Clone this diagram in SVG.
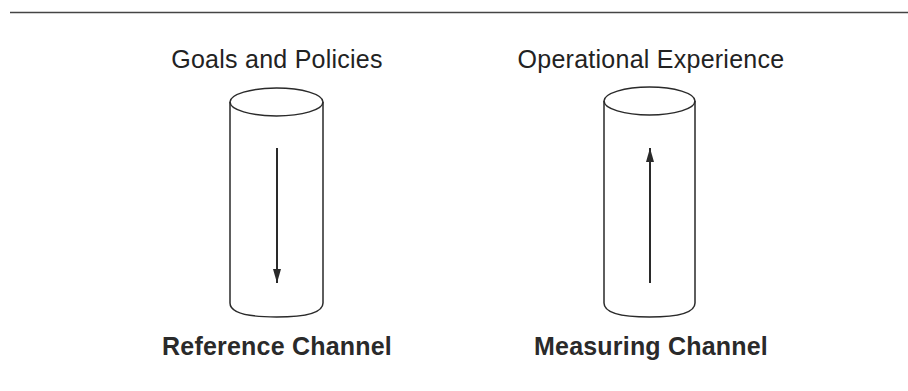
<svg xmlns="http://www.w3.org/2000/svg" width="908" height="391" viewBox="0 0 908 391">
<defs>
<style>
.cyl{fill:none;stroke:#2a2a2a;stroke-width:1.5}
.lbl{font-family:"Liberation Sans",Arial,sans-serif;font-size:25px;letter-spacing:0.25px;fill:#222;text-anchor:middle}
.ttl{font-family:"Liberation Sans",Arial,sans-serif;font-size:25px;letter-spacing:0.2px;font-weight:bold;fill:#2a2a2a;text-anchor:middle}
.arr{stroke:#2a2a2a;stroke-width:2;fill:none}
</style>
<marker id="ah" viewBox="0 0 14 8" refX="14" refY="4" markerWidth="14" markerHeight="8" markerUnits="userSpaceOnUse" orient="auto">
<path d="M0,0 L14,4 L0,8 z" fill="#2a2a2a"/>
</marker>
</defs>
<rect width="908" height="391" fill="#fff"/>
<line x1="10" y1="12.5" x2="908" y2="12.5" stroke="#444" stroke-width="1.5"/>
<g id="reference-channel">
<text class="lbl" x="277" y="68">Goals and Policies</text>
<ellipse class="cyl" cx="276.5" cy="102" rx="46.5" ry="14"/>
<path class="cyl" d="M230,102 L230,303 Q230,317 276.5,317 Q323,317 323,303 L323,102"/>
<text class="ttl" x="277" y="355">Reference Channel</text>
</g>
<g id="measuring-channel">
<text class="lbl" x="651" y="68" letter-spacing="0.1">Operational Experience</text>
<ellipse class="cyl" cx="649.5" cy="101" rx="45.5" ry="14"/>
<path class="cyl" d="M604,101 L604,303 Q604,317 649.5,317 Q695,317 695,303 L695,101"/>
<text class="ttl" x="651" y="355">Measuring Channel</text>
</g>
<g id="connectors">
<line class="arr" x1="277" y1="148" x2="277" y2="283" marker-end="url(#ah)"/>
<line class="arr" x1="650" y1="283" x2="650" y2="148" marker-end="url(#ah)"/>
</g>
</svg>
